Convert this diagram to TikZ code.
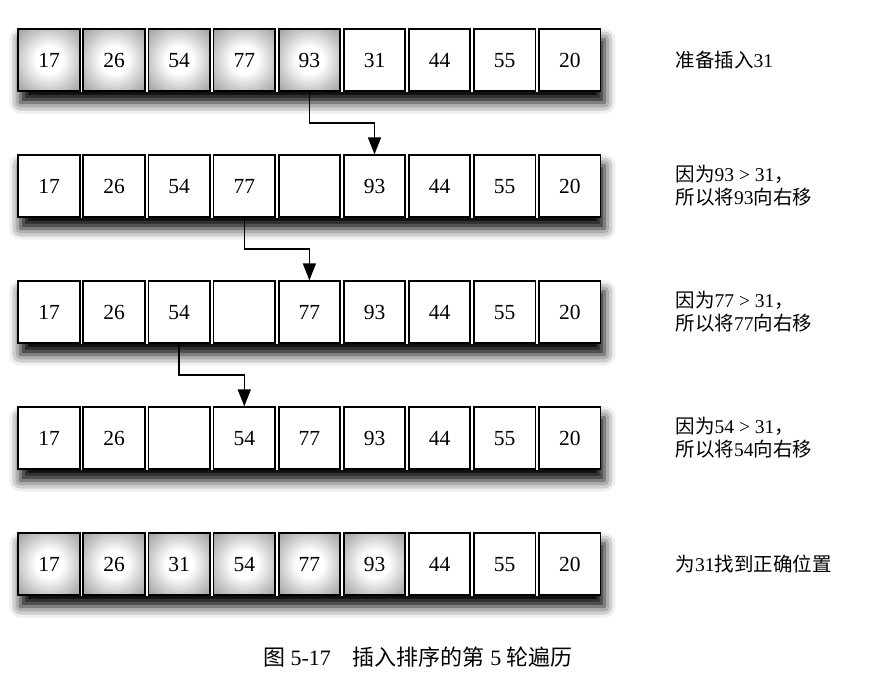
\documentclass[tikz,border=0pt]{standalone}
\usepackage{fontspec}
\setmainfont{Liberation Serif}
\newfontfamily\cjk{Noto Sans CJK SC}
\usetikzlibrary{positioning, arrows.meta, shadows.blur, backgrounds}
\pgfdeclareradialshading{cellglow}{\pgfpoint{0bp}{0bp}}{%
    color(0bp)=(white); color(11bp)=(white); color(25bp)=(black!22);
    color(36bp)=(black!38); color(50bp)=(black!38)}
\tikzset{
    cell/.style={
        rectangle, draw, line width=1.8pt, fill=white,
        minimum size=61.5pt, inner sep=0pt,
        text height=14.5pt, text depth=0pt, % same baseline in every box
        font=\fontsize{21.5}{21.5}\selectfont
    },
    done/.style={cell, shading=cellglow}, % sorted part
    rowshadow/.style={
        fill=white,
        blur shadow={shadow xshift=3pt, shadow yshift=-11pt,
                     shadow blur radius=11pt, shadow opacity=100}
    },
    note/.style={anchor=west, align=left, inner sep=0pt,
                 font=\fontsize{19.5}{23}\selectfont},
    move/.style={-{Triangle[length=17pt, width=13pt]}, line width=1.5pt}
}

\begin{document}
\begin{tikzpicture}[x=1pt, y=1pt]
        \useasboundingbox (0,0) rectangle (892,-688);

        % Row a: 31 is next
        \foreach \v/\s [count=\i] in {17/done,26/done,54/done,77/done,93/done,31/cell,44/cell,55/cell,20/cell}
            \node[\s] (a\i) at ({49+65.1*(\i-1)},-60) {\v};
        % Row b: 93 moved right
        \foreach \v/\s [count=\i] in {17/cell,26/cell,54/cell,77/cell,{}/cell,93/cell,44/cell,55/cell,20/cell}
            \node[\s] (b\i) at ({49+65.1*(\i-1)},-186) {\v};
        % Row c: 77 moved right
        \foreach \v/\s [count=\i] in {17/cell,26/cell,54/cell,{}/cell,77/cell,93/cell,44/cell,55/cell,20/cell}
            \node[\s] (c\i) at ({49+65.1*(\i-1)},-312) {\v};
        % Row d: 54 moved right
        \foreach \v/\s [count=\i] in {17/cell,26/cell,{}/cell,54/cell,77/cell,93/cell,44/cell,55/cell,20/cell}
            \node[\s] (d\i) at ({49+65.1*(\i-1)},-438) {\v};
        % Row e: 31 in place
        \foreach \v/\s [count=\i] in {17/done,26/done,31/done,54/done,77/done,93/done,44/cell,55/cell,20/cell}
            \node[\s] (e\i) at ({49+65.1*(\i-1)},-564) {\v};

        % Shadows behind each row
        \begin{scope}[on background layer]
            \foreach \r in {a,b,c,d,e}
                \path[rowshadow] (\r1.north west) rectangle (\r9.south east);
        \end{scope}

        % Notes on the right
        \node[note, right=74pt of a9] (na) {{\cjk 准备插入}31};
        \node[note, right=74pt of b9] (nb) {{\cjk 因为}93 > 31{\cjk ，}\\{\cjk 所以将}93{\cjk 向右移}};
        \node[note, right=74pt of c9] (nc) {{\cjk 因为}77 > 31{\cjk ，}\\{\cjk 所以将}77{\cjk 向右移}};
        \node[note, right=74pt of d9] (nd) {{\cjk 因为}54 > 31{\cjk ，}\\{\cjk 所以将}54{\cjk 向右移}};
        \node[note, right=74pt of e9] (ne) {{\cjk 为}31{\cjk 找到正确位置}};

        % Moves
        \draw[move] (a5.south) -- ++(0,-31.5) -| (b6.north);
        \draw[move] (b4.south) -- ++(0,-31.5) -| (c5.north);
        \draw[move] (c3.south) -- ++(0,-31.5) -| (d4.north);

        % Caption
        \node[font=\fontsize{22}{22}\selectfont] (cap) at (418,-657)
            {{\cjk 图} 5-17\hspace{1em}{\cjk 插入排序的第} 5 {\cjk 轮遍历}};

\end{tikzpicture}
\end{document}
